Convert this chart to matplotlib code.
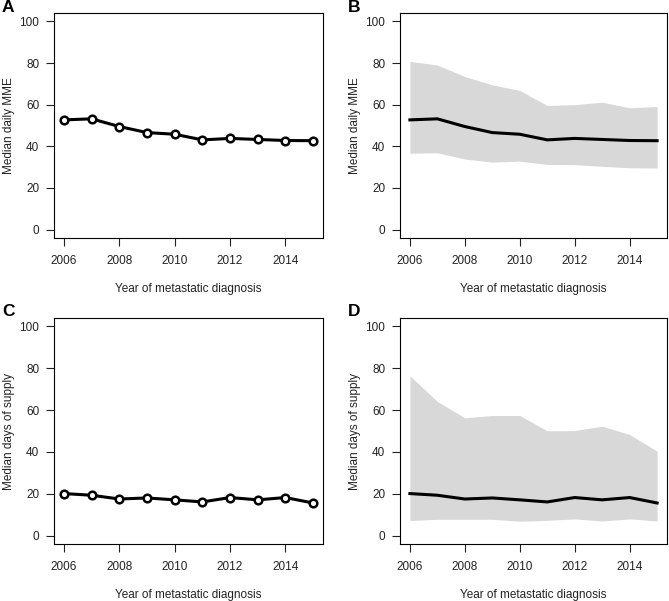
import matplotlib
matplotlib.use("Agg")
import matplotlib.pyplot as plt

plt.rcParams["font.family"] = ["Liberation Sans", "DejaVu Sans"]

years = [2006, 2007, 2008, 2009, 2010, 2011, 2012, 2013, 2014, 2015]

# median daily MME and its spread
mme_median = [52.7, 53.2, 49.5, 46.6, 45.8, 43.1, 43.8, 43.3, 42.8, 42.7]
mme_upper = [80.8, 79.0, 73.5, 69.5, 66.8, 59.6, 60.0, 61.2, 58.5, 59.1]
mme_lower = [36.7, 36.9, 33.9, 32.4, 32.9, 31.3, 31.2, 30.4, 29.7, 29.6]

# median days of supply and its spread
days_median = [20.1, 19.3, 17.5, 18.0, 17.1, 16.1, 18.2, 17.1, 18.2, 15.6]
days_upper = [76.4, 64.1, 56.3, 57.4, 57.4, 50.1, 50.2, 52.3, 48.3, 40.4]
days_lower = [7.2, 7.8, 7.8, 7.8, 6.9, 7.3, 8.0, 7.0, 8.0, 7.0]

xticks = [2006, 2008, 2010, 2012, 2014]
yticks = [0, 20, 40, 60, 80, 100]

W, H = 669, 601
fig = plt.figure(figsize=(W / 100, H / 100), dpi=100)


def make_ax(left, top, right, bottom):
    return fig.add_axes([left / W, 1 - bottom / H, (right - left) / W, (bottom - top) / H])


def style(ax, ylabel):
    ax.set_xlim(2006 - 0.36, 2015 + 0.36)
    ax.set_ylim(-4, 104)
    ax.set_xticks(xticks)
    ax.set_yticks(yticks)
    ax.tick_params(direction="out", length=5.5, width=0.8, labelsize=8.5, colors="#222222")
    ax.tick_params(axis="x", pad=7)
    ax.tick_params(axis="y", pad=5)
    ax.set_xlabel("Year of metastatic diagnosis", fontsize=8.5, labelpad=11, color="#222222")
    ax.set_ylabel(ylabel, fontsize=8.5, labelpad=3.5, color="#222222")
    for s in ax.spines.values():
        s.set_linewidth(0.8)


panels = [
    ("A", (54, 13, 323, 238), mme_median, None, None, "Median daily MME"),
    ("B", (400, 13, 667, 238), mme_median, mme_lower, mme_upper, "Median daily MME"),
    ("C", (54, 318, 323, 544), days_median, None, None, "Median days of supply"),
    ("D", (400, 318, 667, 544), days_median, days_lower, days_upper, "Median days of supply"),
]

for label, box, med, lo, hi, ylab in panels:
    ax = make_ax(*box)
    if lo is None:
        ax.plot(years, med, color="black", linewidth=2.2, marker="o", markersize=5.5,
                markerfacecolor="white", markeredgecolor="black", markeredgewidth=1.8)
    else:
        ax.fill_between(years, lo, hi, color="#d8d8d8", linewidth=0)
        ax.plot(years, med, color="black", linewidth=2.2)
    style(ax, ylab)
    fig.text((box[0] - 52) / W, 1 - (box[1] - 6) / H, label, fontsize=12.5, fontweight="bold",
             ha="left", va="center")

fig.savefig("out.png", dpi=100)
